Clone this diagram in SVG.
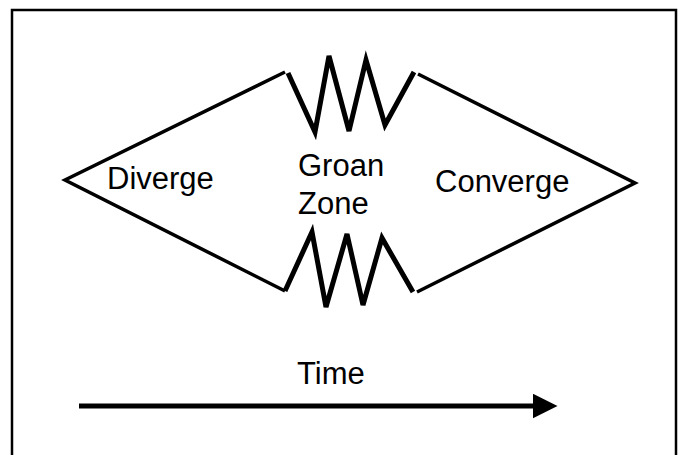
<svg xmlns="http://www.w3.org/2000/svg" width="682" height="455" viewBox="0 0 682 455">
<defs>
<style>
.t{font-family:"Liberation Sans",Arial,sans-serif;font-size:31px;fill:#000}
.side{fill:none;stroke:#000;stroke-width:3.5;stroke-linecap:butt}
.zig{fill:none;stroke:#000;stroke-width:5;stroke-linejoin:miter}
</style>
<marker id="ah" viewBox="0 0 10 10" refX="1" refY="5" markerUnits="userSpaceOnUse" markerWidth="25" markerHeight="25" orient="auto">
<path d="M0,0 L10,5 L0,10 Z" fill="#000"/>
</marker>
</defs>
<rect width="682" height="455" fill="#fff"/>
<rect x="12" y="10" width="664" height="470" fill="none" stroke="#000" stroke-width="2.5"/>
<g id="connectors">
<polyline class="side" points="285,72 65,180 285,291"/>
<polyline class="side" points="418,74 635,183 417,292"/>
<polyline class="zig" points="288,73 315,132 329,56 349,131 366,60 385,125 414,72"/>
<polyline class="zig" points="285,291 312,232 326,307 347,234 363,305 382,238 413,292"/>
<line x1="79" y1="406" x2="535" y2="406" stroke="#000" stroke-width="5" marker-end="url(#ah)"/>
</g>
<g id="diverge"><text class="t" x="107" y="189">Diverge</text></g>
<g id="groan"><text class="t" x="298" y="176">Groan</text><text class="t" x="298" y="214">Zone</text></g>
<g id="converge"><text class="t" x="435" y="192">Converge</text></g>
<g id="time"><text class="t" x="297" y="384">Time</text></g>
</svg>
